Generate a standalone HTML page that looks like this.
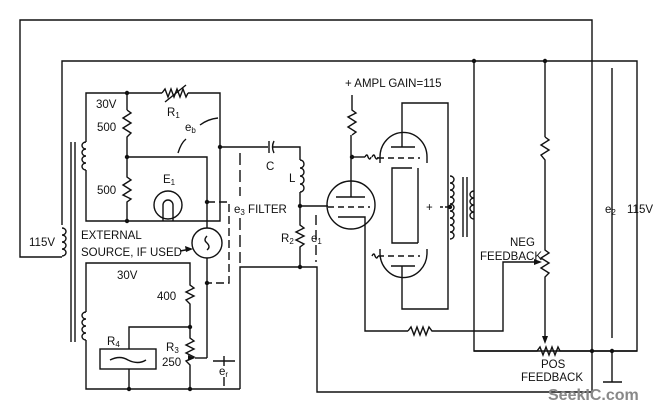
<!DOCTYPE html>
<html><head><style>
html,body{margin:0;padding:0;background:#fff;}
svg{display:block;}
text{font-family:"Liberation Sans",sans-serif;font-size:11.5px;fill:#111;}
</style></head><body>
<svg width="668" height="410" viewBox="0 0 668 410" xmlns="http://www.w3.org/2000/svg">
<g fill="none" stroke="#111" stroke-width="1.4">
<polyline points="62,257 20,257 20,20 592,20 592,392 317,392 317,267 240,267 240,389"/>
<polyline points="62,225 62,61 637,61 637,351 474,351 474,61"/>
<line x1="545" y1="61" x2="545" y2="137"/>
<path d="M62,228 a4,3.5 0 0 1 0,7 a4,3.5 0 0 1 0,7 a4,3.5 0 0 1 0,7 a4,3.5 0 0 1 0,7"/>
<line x1="71" y1="142" x2="71" y2="342"/><line x1="75" y1="142" x2="75" y2="342"/>
<path d="M86,142 a4,3.5 0 0 0 0,7 a4,3.5 0 0 0 0,7 a4,3.5 0 0 0 0,7 a4,3.5 0 0 0 0,7"/>
<path d="M86,312 a4,3.5 0 0 0 0,7 a4,3.5 0 0 0 0,7 a4,3.5 0 0 0 0,7 a4,3.5 0 0 0 0,7"/>
<polyline points="86,142 86,93 162,93"/><polyline points="188,93 220,93 220,221 86,221 86,170"/>
<polyline points="162,93 165,89 168,97 171,89 174,97 177,89 180,97 183,89 186,97 188,93"/>
<line x1="165" y1="102" x2="186" y2="85"/>
<line x1="127" y1="93" x2="127" y2="110"/>
<polyline points="127,110 131,113 123,118 131,123 123,128 131,133 127,137 127,177 131,180 123,185 131,190 123,195 131,199 127,202 127,221"/>
<polyline points="127,157 207,157 207,228"/>
<circle cx="168" cy="205" r="14"/>
<path d="M163,221 V205 a5,5 0 0 1 10,0 V221"/>
<path d="M178,153 q3,-10 8,-14"/><path d="M200,125 q8,-6 18,-7"/>
<polyline points="220,147 268,147"/><line x1="269" y1="141" x2="269" y2="153"/><path d="M274,141 q-3,6 0,12"/>
<polyline points="273,147 300,147 300,160"/>
<path d="M300,160 a4,4 0 0 1 0,8 a4,4 0 0 1 0,8 a4,4 0 0 1 0,8 a4,4 0 0 1 0,8"/>
<polyline points="300,192 300,225 304,228 296,232 304,236 296,240 304,244 300,247 300,267"/>
<line x1="300" y1="206" x2="328" y2="206"/>
<line x1="316" y1="215" x2="316" y2="262" stroke-dasharray="10,5"/>
<line x1="240" y1="153" x2="240" y2="196" stroke-dasharray="12,5"/>
<line x1="240" y1="218" x2="240" y2="263" stroke-dasharray="12,5"/>
<polyline points="207,202 229,202 229,283 207,283" stroke-dasharray="8,4"/>
<circle cx="207" cy="243" r="15"/>
<path d="M207,236 q-4,4 0,7 q4,4 0,7"/>
<line x1="207" y1="258" x2="207" y2="358"/><polyline points="207,358 195,358"/>
<line x1="180" y1="251" x2="191" y2="249"/>
<polyline points="86,312 86,263 190,263 190,285 194,288 186,292 194,296 186,300 190,304 190,338 194,341 186,345 194,349 186,353 194,357 186,361 190,365 190,389 86,389 86,340"/>
<polyline points="190,327 129,327 129,349"/>
<rect x="100" y="349" width="56" height="20"/>
<path d="M110,360 q10,-5 18,0 q10,5 18,0"/>
<line x1="129" y1="369" x2="129" y2="389"/>
<line x1="213" y1="361" x2="235" y2="361"/><line x1="224" y1="356" x2="224" y2="366"/><line x1="224" y1="377" x2="224" y2="386"/>
<line x1="190" y1="389" x2="240" y2="389"/>
<circle cx="351" cy="205" r="24"/>
<line x1="336" y1="197" x2="365" y2="197"/>
<line x1="328" y1="207" x2="370" y2="207" stroke-dasharray="6,4"/>
<polyline points="338,217 365,217 365,331 408,331"/>
<polyline points="408,331 411,327 414,335 417,327 420,335 423,327 426,335 429,327 432,331 503,331 503,262 538,262"/>
<line x1="351" y1="197" x2="351" y2="135"/>
<polyline points="352,135 356,132 348,127 356,122 348,117 356,113 352,110 352,95"/>
<line x1="352" y1="157" x2="365" y2="157"/>
<path d="M365,157 q2,-4 3,0 q2,4 3,0 M372,157 q2,-4 3,0 q2,4 3,0"/>
<line x1="378" y1="158" x2="420" y2="158" stroke-dasharray="6,4"/>
<path d="M380,163 V157 a23,24 0 0 1 47,0 V163"/>
<line x1="391" y1="147" x2="415" y2="147"/>
<polyline points="402,147 402,103 448,103 448,309 402,309 402,266"/>
<polyline points="412,168 392,168 392,243 418,243"/>
<line x1="418" y1="168" x2="418" y2="243"/>
<path d="M380,249 V253 a23,24 0 0 0 47,0 V249"/>
<line x1="378" y1="256" x2="420" y2="256" stroke-dasharray="6,4"/>
<path d="M372,256 q2,-4 3,0 q2,4 3,0"/>
<line x1="391" y1="266" x2="415" y2="266"/>
<path d="M450,176 a4,3.5 0 0 1 0,7 a4,3.5 0 0 1 0,7 a4,3.5 0 0 1 0,7 a4,3.5 0 0 1 0,7 a4,3.5 0 0 1 0,7 a4,3.5 0 0 1 0,7 a4,3.5 0 0 1 0,7 a4,3.5 0 0 1 0,7 a4,3.5 0 0 1 0,7"/>
<line x1="440" y1="207" x2="450" y2="207" stroke-dasharray="3,2"/>
<line x1="463" y1="177" x2="463" y2="237"/><line x1="467" y1="177" x2="467" y2="237"/>
<path d="M474,191 a4,3.5 0 0 0 0,7 a4,3.5 0 0 0 0,7 a4,3.5 0 0 0 0,7 a4,3.5 0 0 0 0,7"/>
<polyline points="545,137 549,140 541,145 549,150 541,155 545,160 545,250 549,253 541,258 549,263 541,268 549,273 545,277 545,340"/>
<polyline points="474,351 537,351 540,347 543,355 546,347 549,355 552,347 555,355 558,347 560,351 637,351"/>
<line x1="612" y1="68" x2="612" y2="338"/>
<line x1="612" y1="351" x2="612" y2="382"/>
<line x1="603" y1="382" x2="622" y2="382"/>
</g>
<g fill="#111">
<polygon points="545,344 542,336 548,336"/>
<polygon points="542,262 534,259 534,265"/>
<polygon points="195,358 188,355 188,361"/>
<polygon points="193,249 185,246 186,252"/>
<circle cx="127" cy="93" r="2.2"/><circle cx="127" cy="157" r="2.2"/><circle cx="127" cy="221" r="2.2"/>
<circle cx="220" cy="147" r="2.2"/><circle cx="207" cy="202" r="2.2"/><circle cx="207" cy="283" r="2.2"/>
<circle cx="190" cy="327" r="2.2"/><circle cx="129" cy="389" r="2.2"/><circle cx="190" cy="389" r="2.2"/>
<circle cx="300" cy="206" r="2.2"/><circle cx="300" cy="267" r="2.2"/><circle cx="352" cy="157" r="2.2"/>
<circle cx="474" cy="61" r="2.2"/><circle cx="545" cy="61" r="2.2"/><circle cx="450" cy="207" r="2.2"/>
<circle cx="592" cy="351" r="2.2"/><circle cx="612" cy="351" r="2.2"/>
</g>
<text x="96" y="108">30V</text>
<text x="97" y="131">500</text>
<text x="97" y="194">500</text>
<text x="167" y="116">R<tspan font-size="8" dy="2">1</tspan></text>
<text x="185" y="131">e<tspan font-size="8" dy="2">b</tspan></text>
<text x="163" y="183">E<tspan font-size="8" dy="2">1</tspan></text>
<text x="266" y="170">C</text>
<text x="289" y="182">L</text>
<text x="234" y="213">e<tspan font-size="8" dy="2">3</tspan><tspan dy="-2"> FILTER</tspan></text>
<text x="281" y="242">R<tspan font-size="8" dy="2">2</tspan></text>
<text x="311" y="242">e<tspan font-size="8" dy="2">1</tspan></text>
<text x="29" y="246">115V</text>
<text x="81" y="239">EXTERNAL</text>
<text x="81" y="256">SOURCE, IF USED</text>
<text x="117" y="279">30V</text>
<text x="157" y="300">400</text>
<text x="107" y="345">R<tspan font-size="8" dy="2">4</tspan></text>
<text x="166" y="351">R<tspan font-size="8" dy="2">3</tspan></text>
<text x="162" y="366">250</text>
<text x="219" y="375">e<tspan font-size="8" dy="2">r</tspan></text>
<text x="345" y="87">+ AMPL GAIN=115</text>
<text x="426" y="211">+</text>
<text x="510" y="246">NEG</text>
<text x="480" y="260">FEEDBACK</text>
<text x="541" y="368">POS</text>
<text x="521" y="381">FEEDBACK</text>
<text x="605" y="213">e<tspan font-size="8" dy="2">2</tspan></text>
<text x="627" y="213">115V</text>
<text x="548" y="400" style="font-size:16px;font-weight:bold;fill:#888">SeekIC.com</text>
</svg>
</body></html>
